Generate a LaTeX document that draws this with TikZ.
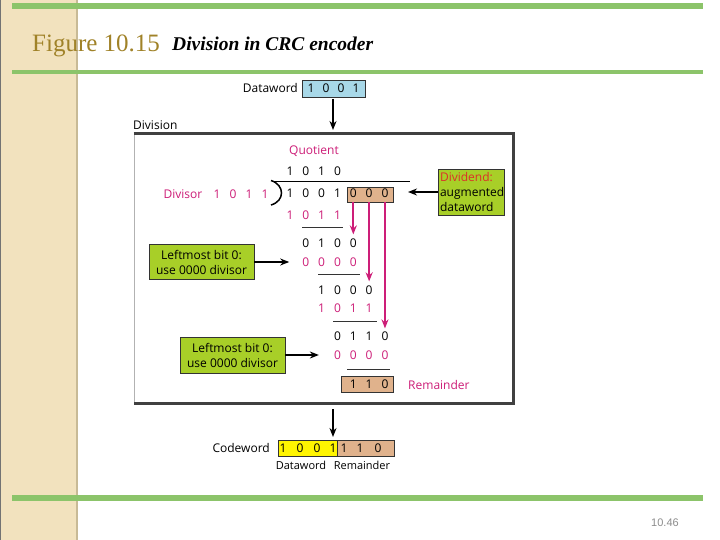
\documentclass[tikz,border=0pt]{standalone}
\usepackage{fontspec}
\setmainfont{Liberation Serif}
\newfontfamily\dfont{Open Sans}
\newfontfamily\pfont{Liberation Sans}
\usetikzlibrary{arrows.meta}
\definecolor{greenbar}{RGB}{140,196,106}
\definecolor{panel}{RGB}{242,226,190}
\definecolor{paneledge}{RGB}{200,186,150}
\definecolor{titlegold}{RGB}{160,130,40}
\definecolor{mag}{RGB}{205,30,120}
\definecolor{lime}{RGB}{168,207,40}
\definecolor{tanbox}{RGB}{224,178,140}
\definecolor{lblue}{RGB}{168,216,232}
\definecolor{yel}{RGB}{255,245,0}
\definecolor{divred}{RGB}{220,50,40}
\newcommand\drow[5]{\foreach \d [count=\i] in {#4} {\node[#5] (#1-\i) at ({274.17+15.83*(\i+#3-1)},#2) {\d};}}
\begin{document}
\begin{tikzpicture}[x=1pt,y=-1pt,
  every node/.style={inner sep=0pt, font=\dfont\fontsize{12}{15}\selectfont},
  dig/.style={anchor=center},
  mdig/.style={anchor=center, text=mag},
  callout/.style={draw=black!80, fill=lime, line width=0.6pt},
  arr/.style={-{Stealth[length=9pt,width=7pt]}, line width=1.5pt},
  marr/.style={-{Stealth[length=9pt,width=7pt]}, line width=1.7pt, draw=mag, fill=mag},
  rule/.style={line width=0.9pt, draw=black!80},
  cell/.style={draw=black!80, line width=0.6pt}]
\useasboundingbox (0,0) rectangle (720,540);
% left panel
\fill[panel] (0,0) rectangle (78,540);
\draw[paneledge, line width=2pt] (77,0) -- (77,540);
\draw[black!55, line width=0.8pt] (0.4,0) -- (0.4,540);
% green bars
\fill[greenbar] (12,3) rectangle (703,9);
\fill[greenbar] (12,70.5) rectangle (703,74);
\fill[greenbar] (12,495) rectangle (703,501);
% title
\node[anchor=base west, font=\fontsize{25}{28}\selectfont, text=titlegold] (fig) at (32,52) {Figure 10.15};
\node[anchor=base west, font=\fontsize{19.5}{22}\selectfont\bfseries\itshape] (ttl) at (172,51) {Division in CRC encoder};
% page number
\node[font=\pfont\fontsize{11}{13}\selectfont, text=black!45] (pg) at (665,523) {10.46};

% dataword in
\node[anchor=east] (dwl) at (298,88.5) {Dataword};
\node[cell, fill=lblue, minimum width=63pt, minimum height=17pt] (dw) at (333.5,88.5) {};
\foreach \d [count=\i] in {1,0,0,1} \node[dig] (dw-\i) at ({296+15*\i},88.5) {\d};
\node[anchor=west] (divl) at (133,125) {Division};

% division box
\node[draw=gray!60, fill=white, line width=0.8pt, minimum width=379pt, minimum height=269pt] (divbox) at (323.5,268.5) {};
\draw[black!75, line width=2.2pt] (divbox.north west) -- (divbox.north east) -- (divbox.south east) -- (divbox.south west);
\coordinate (inend) at (333,130);
\draw[arr] (333,99) -- (inend);

% quotient and rows
\node[text=mag] (qlab) at (314,151) {Quotient};
\drow{q}{171}{1}{1,0,1,0}{dig}
\drow{dd}{193}{1}{1,0,0,1}{dig}
\node[cell, fill=tanbox, minimum width=46pt, minimum height=15pt] (ddbox) at (370,194.5) {};
\drow{da}{193}{5}{0,0,0}{dig}
\drow{ra}{215}{1}{1,0,1,1}{mdig}
\drow{rb}{243}{2}{0,1,0,0}{dig}
\drow{rc}{262}{2}{0,0,0,0}{mdig}
\drow{rd}{290}{3}{1,0,0,0}{dig}
\drow{re}{308}{3}{1,0,1,1}{mdig}
\drow{rf}{336}{4}{0,1,1,0}{dig}
\drow{rg}{355}{4}{0,0,0,0}{mdig}
\node[cell, fill=tanbox, minimum width=52pt, minimum height=16pt] (rembox) at (367,384) {};
\drow{rm}{384}{5}{1,1,0}{dig}
\node[anchor=west, text=mag] (reml) at (408,385) {Remainder};

% subtraction rules
\draw[rule] (302,227) -- (343,227);
\draw[rule] (318,274) -- (360,274);
\draw[rule] (333,321) -- (377,321);
\draw[rule] (347,369) -- (390,369);

% divisor
\node[text=mag] (dvsl) at (183,194) {Divisor};
\foreach \d [count=\i] in {1,0,1,1} \node[mdig] (dv-\i) at ({201+16*\i},194) {\d};
\draw[line width=1.5pt] (271,180.5) .. controls (285,185) and (285,201) .. (271,205);
\draw[line width=0.9pt] (272,181) -- (410,181);

% magenta arrows
\draw[marr] (ddbox.south -| da-1) -- ([yshift=4pt]rb-4.north);
\draw[marr] (ddbox.south -| da-2) -- ([yshift=4pt]rd-4.north);
\draw[marr] (ddbox.south -| da-3) -- ([yshift=3pt]rf-4.north);

% callouts
\node[callout, minimum width=64pt, minimum height=46pt, text width=62pt, align=left, inner sep=2pt] (dvc) at (471,192)
  {\textcolor{divred}{Dividend:}\\augmented\\dataword};
\coordinate (dvend) at (408,192);
\draw[arr] (dvc.west) -- (dvend);
\node[callout, minimum width=105pt, minimum height=35pt, align=center] (lb1) at (201.5,262) {Leftmost bit 0:\\use 0000 divisor};
\draw[arr] (lb1.east) -- ([xshift=-13pt]rc-1.west);
\node[callout, minimum width=105pt, minimum height=36pt, align=center] (lb2) at (232.5,355) {Leftmost bit 0:\\use 0000 divisor};
\draw[arr] (lb2.east) -- ([xshift=-15pt]rg-1.west);

% codeword
\coordinate (outstart) at (333,409);
\coordinate (outend) at (333,437);
\draw[arr] (outstart) -- (outend);
\node[anchor=east] (cwl) at (270,448) {Codeword};
\node[cell, fill=yel, minimum width=59pt, minimum height=16pt] (cwd) at (307.5,448) {};
\node[cell, fill=tanbox, minimum width=57pt, minimum height=16pt] (cwr) at (365.5,448) {};
\foreach \d/\x [count=\i] in {1/283,0/300,0/317,1/333} \node[dig] (cd-\i) at (\x,448) {\d};
\foreach \d/\x [count=\i] in {1/344,1/360,0/378} \node[dig] (cr-\i) at (\x,448) {\d};
\node[font=\dfont\fontsize{11}{13}\selectfont] (cdl) at (301,465) {Dataword};
\node[font=\dfont\fontsize{11}{13}\selectfont] (crl) at (362,465) {Remainder};
\end{tikzpicture}
\end{document}
